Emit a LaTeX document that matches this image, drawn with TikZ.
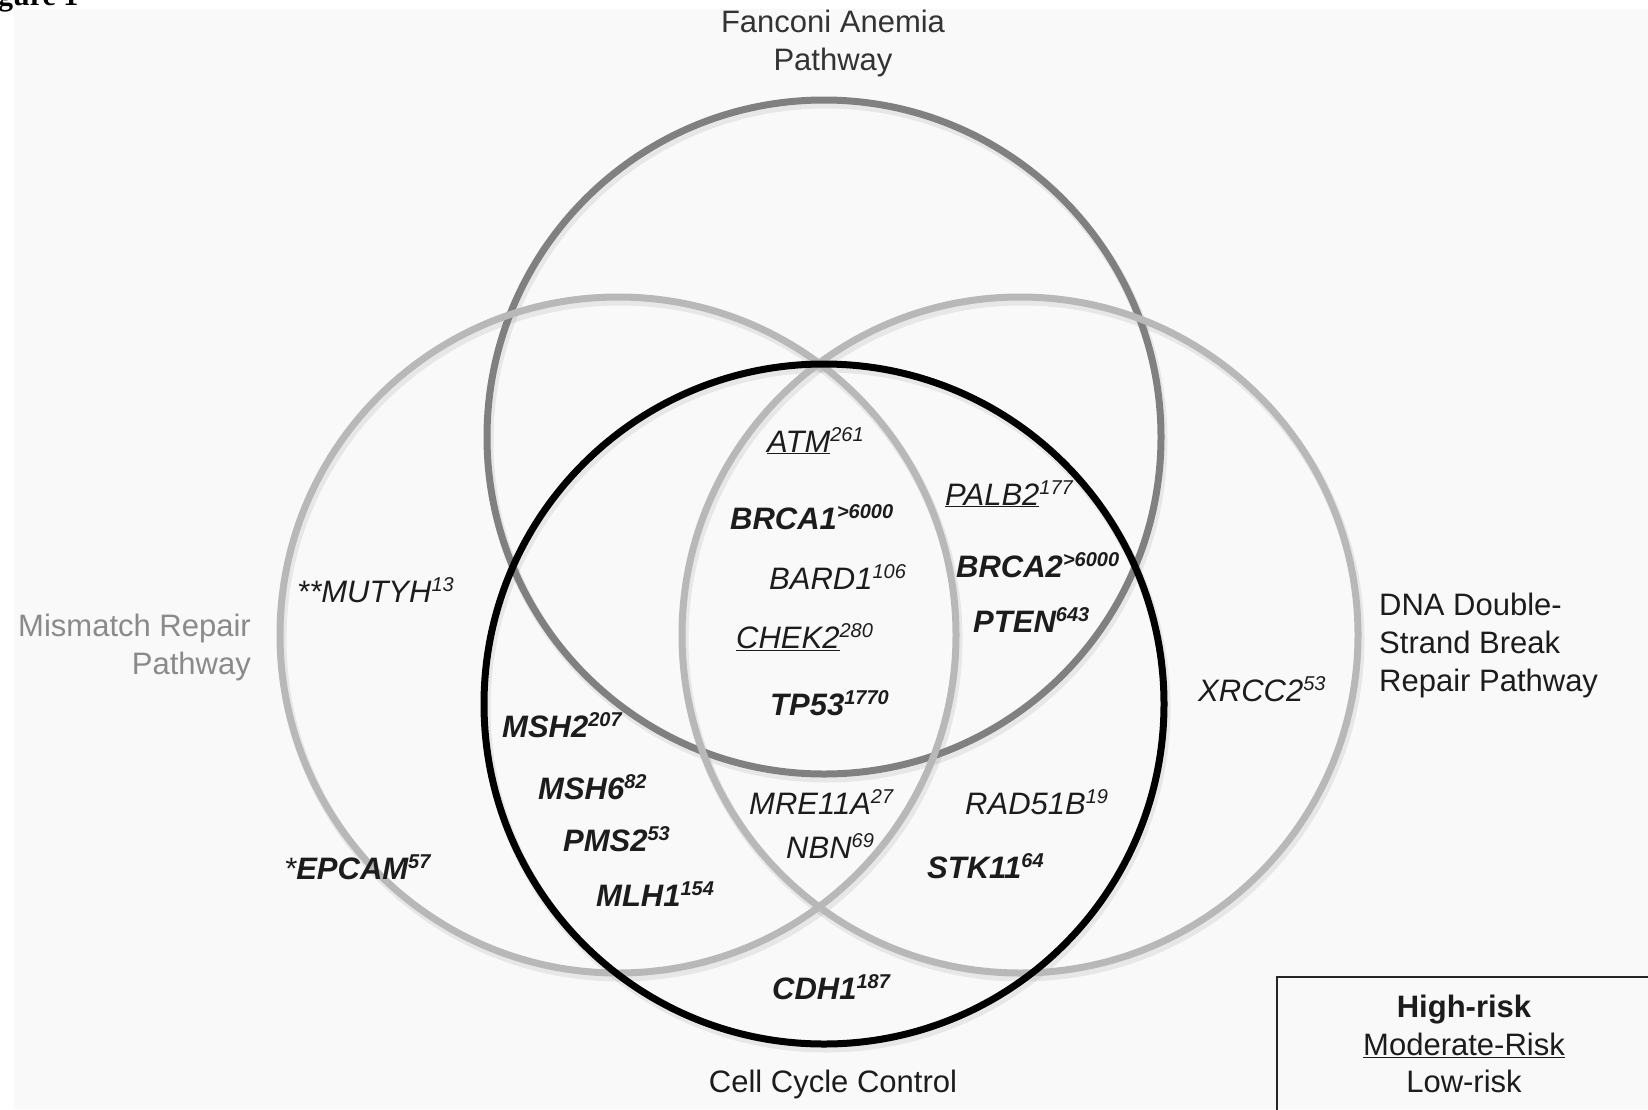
\documentclass[tikz,border=0pt]{standalone}
\usepackage{fontspec}
\setmainfont{Liberation Sans}
\newfontfamily\figserif{Liberation Serif}
\definecolor{panel}{HTML}{F9F9F9}
\definecolor{genec}{HTML}{1C1C1C}
\definecolor{topc}{HTML}{808080}
\definecolor{sidec}{HTML}{B8B8B8}
\definecolor{mmr}{HTML}{8A8A8A}
\newcommand\gs[1]{\raisebox{11pt}{\fontsize{20}{20}\selectfont #1}}
\tikzset{
  gene/.style={anchor=base west, inner sep=0pt, text=genec, font=\fontsize{31}{36}\selectfont\itshape},
  hirisk/.style={gene, font=\fontsize{31}{36}\selectfont\bfseries\itshape},
  lab/.style={inner sep=0pt, font=\fontsize{31}{38}\selectfont, align=center},
  ring/.style={line width=7pt},
  ringshadow/.style={line width=9pt, black, opacity=0.07},
}
\begin{document}
\begin{tikzpicture}[x=1pt,y=-1pt]
\useasboundingbox (0,0) rectangle (1648,1109);
\clip (0,0) rectangle (1648,1109);
\fill[white] (0,0) rectangle (1648,1109);
\fill[panel] (14,9) rectangle (1648,1109);
\node[anchor=base west, inner sep=0pt, font=\fontsize{30}{30}\selectfont\figserif\bfseries] (fig) at (-2,5) {gure 1};
% circle shadows
\draw[ringshadow] (826,441) circle (337);
\draw[ringshadow] (620,639) circle (338);
\draw[ringshadow] (1022,639) circle (338);
\draw[ringshadow] (826,708) circle (340);
% circles
\draw[ring, topc] (824,437) circle (337);
\draw[ring, sidec] (618,635) circle (338);
\draw[ring, sidec] (1020,635) circle (338);
\draw[ring, black] (824,704) circle (340);
% set labels
\node[lab, text=black!80, anchor=base] (fa1) at (833,32) {Fanconi Anemia};
\node[lab, text=black!80, anchor=base] (fa2) at (833,70) {Pathway};
\node[lab, text=mmr, anchor=base east] (mm1) at (251,636) {Mismatch Repair};
\node[lab, text=mmr, anchor=base east] (mm2) at (251,674) {Pathway};
\node[lab, text=genec, anchor=base west] (dsb1) at (1379,615) {DNA Double-};
\node[lab, text=genec, anchor=base west] (dsb2) at (1379,653) {Strand Break};
\node[lab, text=genec, anchor=base west] (dsb3) at (1379,691) {Repair Pathway};
\node[lab, text=genec, anchor=base] (cc) at (833,1092) {Cell Cycle Control};
% genes
\node[gene] (atm) at (767,452) {\underline{ATM}\gs{261}};
\node[gene] (palb2) at (945,505) {\underline{PALB2}\gs{177}};
\node[hirisk] (brca1) at (730,529) {BRCA1\gs{>6000}};
\node[gene] (bard1) at (769,589) {BARD1\gs{106}};
\node[hirisk] (brca2) at (956,577) {BRCA2\gs{>6000}};
\node[hirisk] (pten) at (973,632) {PTEN\gs{643}};
\node[gene] (chek2) at (736,648) {\underline{CHEK2}\gs{280}};
\node[hirisk] (tp53) at (770,715) {TP53\gs{1770}};
\node[gene] (mutyh) at (297,602) {**MUTYH\gs{13}};
\node[hirisk] (msh2) at (502,737) {MSH2\gs{207}};
\node[hirisk] (msh6) at (538,799) {MSH6\gs{82}};
\node[hirisk] (pms2) at (563,851) {PMS2\gs{53}};
\node[hirisk] (mlh1) at (596,906) {MLH1\gs{154}};
\node[hirisk] (epcam) at (284,879) {\textmd{*}EPCAM\gs{57}};
\node[gene] (mre11a) at (749,814) {MRE11A\gs{27}};
\node[gene] (nbn) at (786,858) {NBN\gs{69}};
\node[gene] (rad51b) at (965,814) {RAD51B\gs{19}};
\node[hirisk] (stk11) at (927,878) {STK11\gs{64}};
\node[gene] (xrcc2) at (1198,701) {XRCC2\gs{53}};
\node[hirisk] (cdh1) at (772,999) {CDH1\gs{187}};
% legend
\draw[line width=2pt, black!85] (1277,1115) -- (1277,977) -- (1660,977);
\node[lab, text=genec, anchor=base] (lh) at (1464,1017) {\textbf{High-risk}};
\node[lab, text=genec, anchor=base] (lm) at (1464,1055) {\underline{Moderate-Risk}};
\node[lab, text=genec, anchor=base] (ll) at (1464,1092) {Low-risk};
\end{tikzpicture}
\end{document}
